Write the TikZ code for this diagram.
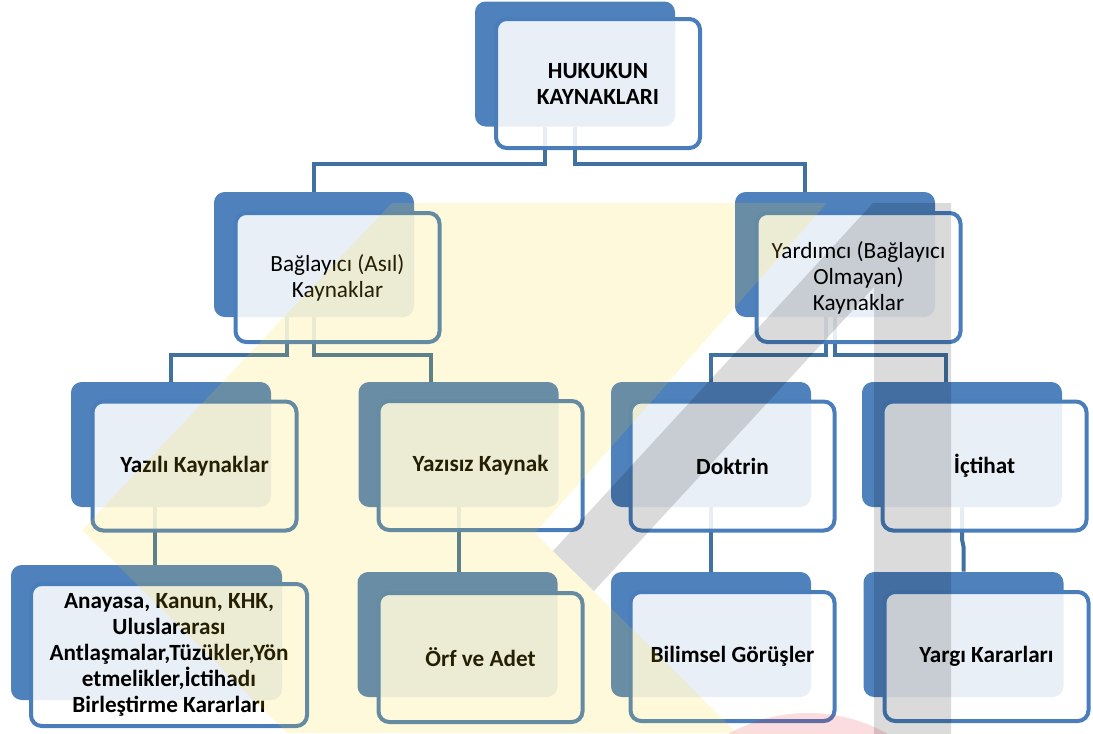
\documentclass[tikz,border=0pt]{standalone}
\usepackage{fontspec}
\setmainfont{Carlito}
\usetikzlibrary{calc}
\pgfdeclarelayer{bg}
\pgfdeclarelayer{fg}
\pgfsetlayers{bg,main,fg}
\definecolor{backblue}{RGB}{79,129,189}
\definecolor{frameblue}{RGB}{74,126,187}
\definecolor{connblue}{RGB}{65,113,160}
\definecolor{wmyellow}{RGB}{255,215,22}
\definecolor{wmred}{RGB}{225,20,40}
\begin{document}
\begin{tikzpicture}[x=0.75pt,y=-0.75pt,
  back/.style={draw=none, fill=backblue, rounded corners=8pt, minimum width=150pt, minimum height=93.75pt, inner sep=0pt},
  front/.style={draw=frameblue, line width=3pt, fill=white, fill opacity=0.88, text opacity=1, rounded corners=8pt,
    minimum width=153pt, minimum height=96.75pt, align=center, inner sep=0pt, font=\fontsize{17.4}{19.5}\selectfont},
  bfront/.style={front, font=\fontsize{17.4}{19.5}\selectfont\bfseries},
  conn/.style={draw=connblue, line width=3pt},
  wmyel/.style={fill=wmyellow, fill opacity=0.15},
  wmgray/.style={fill=black, fill opacity=0.14},
  wmcirc/.style={fill=wmred, fill opacity=0.15},
]
\useasboundingbox (0,0) rectangle (1093,733);

% back boxes
\node[back] (b1) at (575,64) {};
\node[back] (b2) at (314,254.5) {};
\node[back] (b3) at (835,254.5) {};
\node[back] (b4) at (171,444.5) {};
\node[back] (b5) at (458.5,444.5) {};
\node[back] (b6) at (711,444.5) {};
\node[back] (b7) at (962,444.5) {};
\node[back, minimum width=203.25pt, minimum height=101.25pt] (b8) at (146.5,632.5) {};
\node[back] (b9) at (457.5,634.5) {};
\node[back] (b10) at (711,634.5) {};
\node[back] (b11) at (963.5,634.5) {};

% front boxes
\node[bfront] (f1) at (598,83.5) {HUKUKUN\\KAYNAKLARI};
\node[front] (f2) at (337.5,277.5) {Bağlayıcı (Asıl)\\Kaynaklar};
\node[front] (f3) at (858.5,277.5) {Yardımcı (Bağlayıcı\\Olmayan)\\Kaynaklar};
\node[bfront] (f4) at (194.5,466) {Yazılı Kaynaklar};
\node[bfront] (f5) at (480.5,465.5) {Yazısız Kaynak};
\node[bfront] (f6) at (732.5,466) {Doktrin};
\node[bfront] (f7) at (984.5,466) {İçtihat};
\node[bfront, minimum width=207pt, minimum height=106.5pt] (f8) at (169,655)
  {Anayasa, Kanun, KHK,\\Uluslararası\\Antlaşmalar,Tüzükler,Yön\\etmelikler,İctihadı\\Birleştirme Kararları};
\node[bfront] (f9) at (480.5,657.5) {Örf ve Adet};
\node[bfront] (f10) at (732.5,656.5) {Bilimsel Görüşler};
\node[bfront] (f11) at (986.5,656.5) {Yargı Kararları};

% connectors
\begin{pgfonlayer}{bg}
\draw[conn] ($(b1.south)+(-30,0)$) -- ++(0,37) -| (b2.north);
\draw[conn] (b1.south) -- ++(0,37) -| ($(b3.north)+(-30,0)$);
\draw[conn] ($(b2.south)+(-27,0)$) -- ++(0,38) -| (b4.north);
\draw[conn] (b2.south) -- ++(0,38) -| ($(b5.north)+(-28,0)$);
\draw[conn] ($(b3.south)+(-9,0)$) -- ++(0,38) -| (b6.north);
\draw[conn] (b3.south) -- ++(0,38) -| ($(b7.north)+(-16,0)$);
\draw[conn] ($(b4.south)+(-16,0)$) coordinate (t4) -- (t4 |- b8.north);
\draw[conn] (b5.south) -- (b5.south |- b9.north);
\draw[conn] (b6.south) -- (b6.south |- b10.north);
\draw[conn] (b7.south) -- ++(0,32) -- ($(b11.north)+(0,-25)$) -- (b11.north);
\end{pgfonlayer}

% watermark
\begin{pgfonlayer}{fg}
\clip (0,0) rectangle (1093,733);
\fill[wmyel] (392,203) -- (827,203) -- (535,533) -- (737,733) -- (287,733) -- (82,530) -- cycle;
\fill[wmcirc] (808,875) circle[radius=162];
\fill[wmgray] (873,203) -- (951,203) -- (951,740) -- (874,740) -- (874,287) -- (594,591) -- (553,551) -- cycle;
\end{pgfonlayer}
\end{tikzpicture}
\end{document}
